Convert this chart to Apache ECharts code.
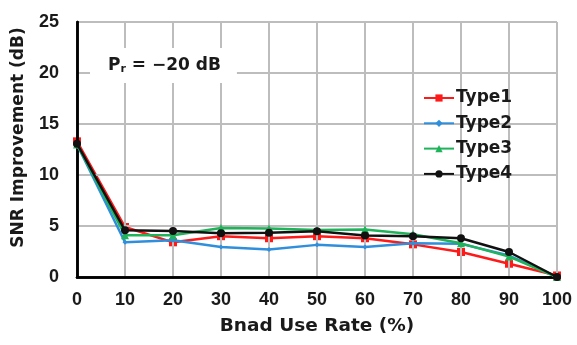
<!DOCTYPE html>
<html>
<head>
<meta charset="utf-8">
<script src="https://cdn.jsdelivr.net/npm/echarts@6/dist/echarts.min.js"></script>
<style>
  html, body { margin: 0; padding: 0; background: #fff; }
  #chart { width: 577px; height: 345px; }
</style>
</head>
<body>
<div id="chart"></div>
<script>
// Band use rate (%) on the x axis
const useRate = [0, 10, 20, 30, 40, 50, 60, 70, 80, 90, 100];

// SNR improvement (dB) for each type
const type1 = [13.3, 4.9, 3.4, 4.0, 3.8, 4.0, 3.8, 3.2, 2.45, 1.3, 0.15];
const type2 = [13.0, 3.4, 3.6, 2.95, 2.7, 3.15, 2.95, 3.3, 3.25, 2.1, 0.0];
const type3 = [13.0, 4.1, 4.1, 4.8, 4.75, 4.6, 4.65, 4.2, 3.3, 2.0, 0.0];
const type4 = [13.07, 4.58, 4.5, 4.3, 4.35, 4.48, 4.08, 4.0, 3.8, 2.45, 0.0];

const seriesNames = ['Type1', 'Type2', 'Type3', 'Type4'];
const seriesData = [type1, type2, type3, type4];
const seriesColors = ['#ff1a1a', '#2f8fdc', '#1fb35a', '#111111'];
const seriesSymbols = ['rect', 'diamond', 'triangle', 'circle'];
const symbolSizes = [8, 5, 8, 8];

const FONT = '"Liberation Sans", Arial, sans-serif';
const WIDE = '"DejaVu Sans", sans-serif';
const TEXT = '#1a1a1a';

const chart = echarts.init(document.getElementById('chart'), null, { renderer: 'canvas' });

const series = seriesNames.map((name, i) => ({
  name: name,
  type: 'line',
  data: useRate.map((x, j) => [x, seriesData[i][j]]),
  symbol: seriesSymbols[i],
  symbolSize: symbolSizes[i],
  showSymbol: true,
  lineStyle: { color: seriesColors[i], width: 2.5 },
  itemStyle: { color: seriesColors[i] },
  z: 3 + i,
  animation: false
}));

// Frame axes on the top and right edges (lines only)
const frameAxis = {
  type: 'value',
  axisLine: { show: true, lineStyle: { color: '#000', width: 2.5 } },
  axisTick: { show: false },
  axisLabel: { show: false },
  splitLine: { show: false },
  z: 4
};

chart.setOption({
  animation: false,
  backgroundColor: '#ffffff',
  grid: { left: 77, top: 22, right: 20, bottom: 68 },
  xAxis: [{
    type: 'value', min: 0, max: 100, interval: 10,
    name: 'Bnad Use Rate (%)', nameLocation: 'middle', nameGap: 40,
    nameTextStyle: { fontFamily: WIDE, fontWeight: 'bold', fontSize: 18.5, color: TEXT },
    axisLine: { show: true, lineStyle: { color: '#000', width: 2.5 } },
    axisTick: { show: false },
    axisLabel: { margin: 14, fontFamily: FONT, fontWeight: 'bold', fontSize: 18, color: TEXT },
    splitLine: { show: true, lineStyle: { color: '#bdbdbd', width: 2 } },
    z: 4
  }, Object.assign({ position: 'top', min: 0, max: 100, interval: 10 }, frameAxis)],
  yAxis: [{
    type: 'value', min: 0, max: 25, interval: 5,
    name: 'SNR Improvement (dB)', nameLocation: 'middle', nameGap: 50,
    nameTextStyle: { fontFamily: WIDE, fontWeight: 'bold', fontSize: 17, color: TEXT, padding: [0, 0, 0, 24] },
    axisLine: { show: true, lineStyle: { color: '#000', width: 2.5 } },
    axisTick: { show: false },
    axisLabel: { margin: 18, fontFamily: FONT, fontWeight: 'bold', fontSize: 18, color: TEXT },
    splitLine: { show: true, lineStyle: { color: '#bdbdbd', width: 2 } },
    z: 4
  }, Object.assign({ position: 'right', min: 0, max: 25, interval: 5 }, frameAxis)],
  legend: {
    data: seriesNames,
    orient: 'vertical',
    left: 408, top: 83,
    itemWidth: 30, itemHeight: 9, itemGap: 7.3,
    backgroundColor: '#ffffff',
    padding: [6, 29, 6, 15],
    textStyle: { fontFamily: WIDE, fontWeight: 'bold', fontSize: 17, lineHeight: 18, color: TEXT, padding: [0, 0, 0, -3] }
  },
  graphic: [{
    type: 'text',
    left: 90, top: 48,
    z: 10,
    style: {
      text: '{p|P}{s|r}{p| = −20 dB}',
      backgroundColor: '#ffffff',
      padding: [8, 16, 8, 18],
      rich: {
        p: { fontFamily: WIDE, fontWeight: 'bold', fontSize: 17, fill: TEXT },
        s: { fontFamily: WIDE, fontWeight: 'bold', fontSize: 11, fill: TEXT, verticalAlign: 'bottom', padding: [8, 0, 0, 0] }
      }
    }
  }],
  series: series
});
</script>
</body>
</html>
